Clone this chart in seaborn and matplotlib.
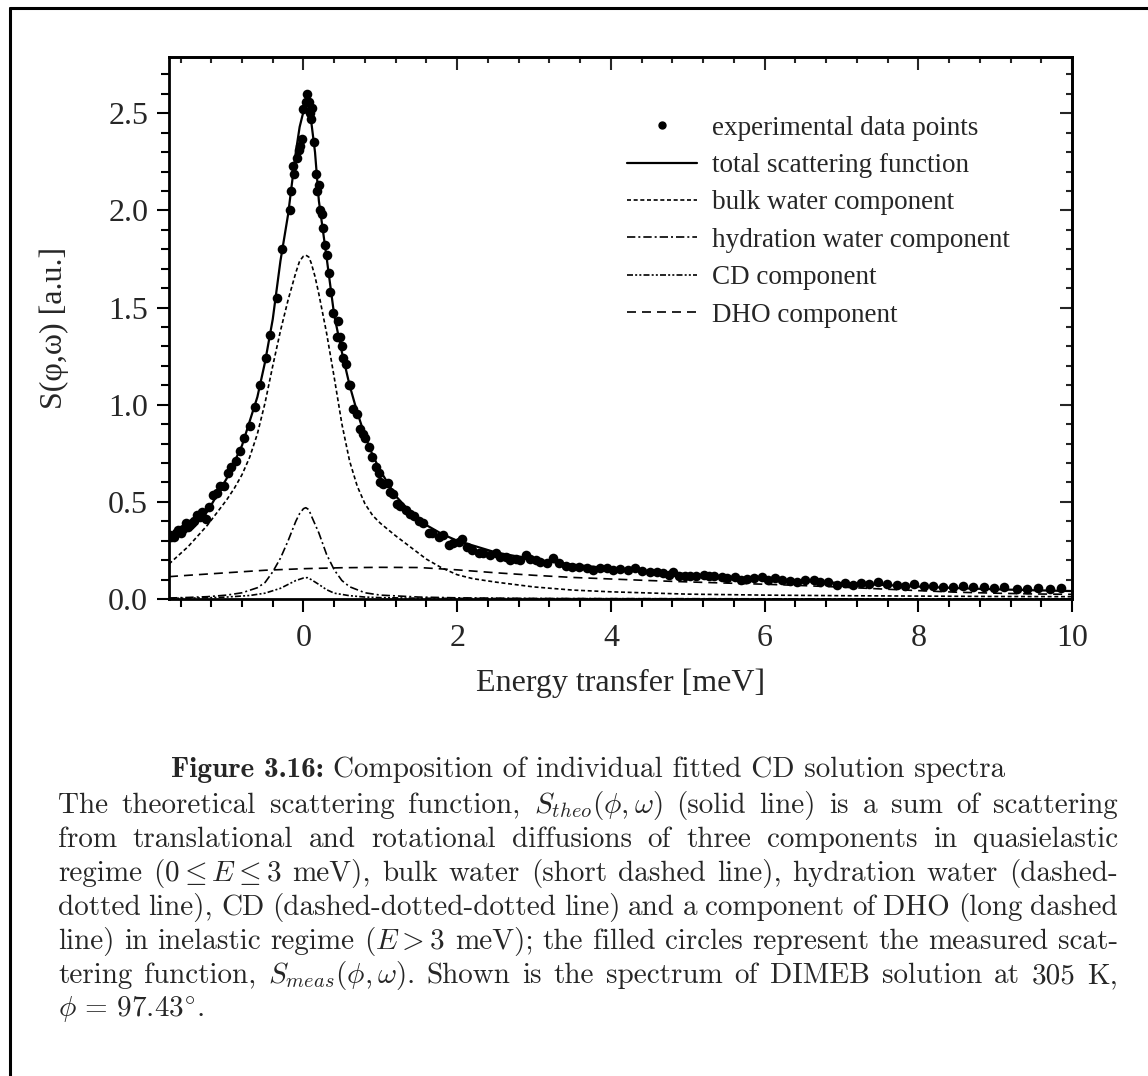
import numpy as np
import pandas as pd
import matplotlib
matplotlib.use("Agg")
import matplotlib.pyplot as plt
import seaborn as sns
from matplotlib.lines import Line2D
from matplotlib.ticker import MultipleLocator, FormatStrFormatter

# ---------------- experimental points ----------------
e_exp = [-1.74, -1.72, -1.69, -1.66, -1.63, -1.60, -1.57, -1.53, -1.50, -1.48, -1.45, -1.43,
         -1.38, -1.35, -1.32, -1.27, -1.23, -1.18, -1.13, -1.08, -1.04, -0.98, -0.94, -0.88,
         -0.82, -0.77, -0.70, -0.63, -0.57, -0.49, -0.43, -0.35, -0.28, -0.18, -0.16, -0.13,
         -0.12, -0.08, -0.06, -0.04, -0.02, 0.00, 0.035, 0.04, 0.07, 0.09, 0.10, 0.11, 0.14,
         0.16, 0.18, 0.20, 0.21, 0.24, 0.26, 0.28, 0.30, 0.33, 0.35, 0.39, 0.44, 0.45, 0.47,
         0.50, 0.52, 0.55, 0.59, 0.61, 0.65, 0.70, 0.73, 0.78, 0.80, 0.85, 0.89, 0.94, 0.98,
         1.00, 1.04, 1.10, 1.13, 1.16, 1.22, 1.26, 1.33, 1.39, 1.44, 1.50, 1.56, 1.63, 1.67,
         1.76, 1.82, 1.89, 1.95, 2.02, 2.06, 2.13, 2.19, 2.28, 2.34, 2.43, 2.50, 2.56, 2.63,
         2.69, 2.76, 2.82, 2.89, 2.95, 3.02, 3.08, 3.17, 3.25, 3.32, 3.41, 3.49, 3.58, 3.69,
         3.77, 3.86, 3.95, 4.03, 4.12, 4.22, 4.32, 4.40, 4.51, 4.60, 4.68, 4.75, 4.81, 4.89,
         4.96, 5.03, 5.11, 5.21, 5.28, 5.34, 5.45, 5.51, 5.61, 5.69, 5.77, 5.86, 5.96, 6.05,
         6.14, 6.23, 6.33, 6.42, 6.53, 6.64, 6.72, 6.83, 6.94, 7.04, 7.15, 7.25, 7.36, 7.48,
         7.59, 7.72, 7.83, 7.95, 8.07, 8.19, 8.32, 8.45, 8.58, 8.71, 8.85, 8.99, 9.12, 9.28,
         9.42, 9.56, 9.71, 9.86]
s_exp = [0.33, 0.32, 0.32, 0.34, 0.355, 0.34, 0.36, 0.39, 0.37, 0.38, 0.39, 0.40,
         0.43, 0.42, 0.45, 0.41, 0.476, 0.536, 0.545, 0.58, 0.58, 0.65, 0.68, 0.71,
         0.76, 0.83, 0.89, 0.99, 1.10, 1.24, 1.36, 1.55, 1.80, 2.00, 2.10, 2.23,
         2.19, 2.27, 2.31, 2.33, 2.37, 2.52, 2.56, 2.60, 2.56, 2.50, 2.47, 2.53, 2.35,
         2.19, 2.10, 2.13, 2.00, 1.98, 1.91, 1.82, 1.77, 1.68, 1.58, 1.47, 1.35, 1.43, 1.35,
         1.30, 1.24, 1.21, 1.10, 1.10, 0.98, 0.95, 0.875, 0.85, 0.83, 0.78, 0.73, 0.68, 0.65,
         0.60, 0.59, 0.595, 0.55, 0.54, 0.49, 0.48, 0.46, 0.44, 0.425, 0.40, 0.39, 0.34, 0.34,
         0.32, 0.33, 0.28, 0.29, 0.295, 0.31, 0.27, 0.25, 0.235, 0.235, 0.227, 0.235, 0.218, 0.218,
         0.20, 0.208, 0.20, 0.227, 0.208, 0.20, 0.192, 0.187, 0.21, 0.184, 0.17, 0.167, 0.167, 0.162,
         0.15, 0.158, 0.162, 0.15, 0.153, 0.15, 0.158, 0.145, 0.137, 0.14, 0.133, 0.125, 0.137, 0.117,
         0.117, 0.12, 0.12, 0.124, 0.117, 0.118, 0.115, 0.11, 0.115, 0.10, 0.105, 0.108, 0.112, 0.10,
         0.110, 0.10, 0.094, 0.087, 0.098, 0.098, 0.09, 0.087, 0.072, 0.08, 0.072, 0.08, 0.077, 0.089,
         0.075, 0.072, 0.069, 0.075, 0.067, 0.067, 0.064, 0.060, 0.067, 0.064, 0.064, 0.059, 0.060, 0.052,
         0.052, 0.055, 0.050, 0.055]

# ---------------- fitted curves ----------------
e_total = [-1.75, -1.5, -1.25, -1.0, -0.8, -0.6, -0.5, -0.4, -0.3, -0.2, -0.1, -0.05, 0.0, 0.03,
           0.06, 0.1, 0.15, 0.2, 0.3, 0.4, 0.5, 0.6, 0.7, 0.8, 0.9, 1.0, 1.2, 1.4, 1.6, 1.8,
           2.0, 2.5, 3.0, 3.5, 4.0, 4.5, 5.0, 5.5, 6.0, 6.5, 7.0, 7.5, 8.0, 8.5, 9.0, 9.5, 10.0]
s_total = [0.32, 0.38, 0.45, 0.62, 0.79, 1.04, 1.22, 1.44, 1.74, 1.98, 2.30, 2.43, 2.51, 2.53,
           2.52, 2.46, 2.30, 2.05, 1.76, 1.46, 1.27, 1.10, 0.96, 0.84, 0.74, 0.66, 0.53, 0.445, 0.38, 0.335,
           0.30, 0.24, 0.203, 0.177, 0.157, 0.142, 0.128, 0.115, 0.102, 0.092, 0.082, 0.073, 0.064, 0.056,
           0.050, 0.045, 0.041]

e_bulk = [-1.75, -1.5, -1.25, -1.0, -0.9, -0.8, -0.7, -0.6, -0.5, -0.4, -0.3, -0.2, -0.1, -0.05,
          0.0, 0.03, 0.07, 0.1, 0.15, 0.2, 0.3, 0.4, 0.5, 0.6, 0.7, 0.8, 0.9, 1.0, 1.2, 1.4, 1.6,
          1.8, 2.0, 2.2, 2.5, 3.0, 3.5, 4.0, 5.0, 6.0, 7.0, 8.0, 9.0, 10.0]
s_bulk = [0.18, 0.27, 0.38, 0.51, 0.57, 0.64, 0.73, 0.85, 1.01, 1.20, 1.38, 1.54, 1.68, 1.74,
          1.765, 1.77, 1.76, 1.73, 1.66, 1.57, 1.37, 1.14, 0.90, 0.71, 0.58, 0.49, 0.43, 0.39, 0.325, 0.265, 0.205,
          0.16, 0.125, 0.105, 0.087, 0.062, 0.046, 0.037, 0.025, 0.020, 0.017, 0.015, 0.013, 0.012]

e_hyd = [-1.75, -1.5, -1.25, -1.0, -0.8, -0.6, -0.5, -0.4, -0.3, -0.2, -0.1, -0.05, 0.0, 0.03,
         0.07, 0.1, 0.2, 0.3, 0.4, 0.5, 0.6, 0.8, 1.0, 1.5, 2.0, 3.0, 4.0, 6.0, 10.0]
s_hyd = [0.005, 0.008, 0.012, 0.02, 0.032, 0.058, 0.085, 0.14, 0.21, 0.30, 0.40, 0.44, 0.465, 0.47,
         0.46, 0.43, 0.34, 0.23, 0.15, 0.095, 0.063, 0.032, 0.02, 0.01, 0.006, 0.003, 0.002, 0.001, 0.0]

e_cd = [-1.75, -1.25, -1.0, -0.7, -0.5, -0.3, -0.2, -0.1, 0.0, 0.05, 0.1, 0.2, 0.3, 0.4, 0.6,
        0.8, 1.0, 1.5, 2.0, 3.0, 5.0, 10.0]
s_cd = [0.003, 0.006, 0.01, 0.018, 0.03, 0.055, 0.075, 0.095, 0.108, 0.11, 0.10, 0.075, 0.048, 0.03,
        0.017, 0.01, 0.007, 0.004, 0.003, 0.002, 0.001, 0.0]

e_dho = [-1.75, -1.5, -1.0, -0.5, 0.0, 0.5, 1.0, 1.5, 2.0, 2.5, 3.0, 3.5, 4.0, 4.5, 5.0, 5.5,
         6.0, 6.5, 7.0, 7.5, 8.0, 8.5, 9.0, 9.5, 10.0]
s_dho = [0.115, 0.122, 0.135, 0.148, 0.156, 0.161, 0.163, 0.162, 0.15, 0.135, 0.122, 0.111, 0.103,
         0.095, 0.088, 0.082, 0.076, 0.069, 0.061, 0.052, 0.043, 0.035, 0.030, 0.026, 0.024]

legend_labels = ["experimental data points", "total scattering function", "bulk water component",
                 "hydration water component", "CD component", "DHO component"]

caption_bold = "Figure 3.16:"
caption_title = "Composition of individual fitted CD solution spectra"
caption_lines = [
    r"The theoretical scattering function, $S_{theo}(\phi,\omega)$ (solid line) is a sum of scattering",
    r"from translational and rotational diffusions of three components in quasielastic",
    r"regime ($0\leq{}E\leq{}3$ meV), bulk water (short dashed line), hydration water (dashed-",
    r"dotted line), CD (dashed-dotted-dotted line) and a component of DHO (long dashed",
    r"line) in inelastic regime ($E>3$ meV); the filled circles represent the measured scat-",
    r"tering function, $S_{meas}(\phi,\omega)$. Shown is the spectrum of DIMEB solution at 305 K,",
    r"$\phi\,=\,97.43^{\circ}$.",
]

# ---------------- style ----------------
sns.set_style("ticks")
plt.rcParams['font.family'] = ['Liberation Serif', 'DejaVu Serif']
plt.rcParams['mathtext.fontset'] = 'cm'

W, H = 1148, 1076
fig = plt.figure(figsize=(W / 100, H / 100), dpi=100)
ax = fig.add_axes([169 / W, 1 - 599 / H, (1072 - 169) / W, (599 - 57) / H])

lw = 1.2
styles = [
    (e_total, s_total, '-', 1.6),
    (e_bulk, s_bulk, (0, (2.4, 1.6)), lw),
    (e_hyd, s_hyd, (0, (5.0, 1.8, 1.2, 1.8)), lw),
    (e_cd, s_cd, (0, (3.6, 1.3, 1.2, 1.3, 1.2, 1.3)), lw),
    (e_dho, s_dho, (0, (5.4, 3.6)), lw),
]
for ex, sy, ls, w in styles:
    sns.lineplot(x=ex, y=sy, ax=ax, color='black', linestyle=ls, linewidth=w,
                 estimator=None, sort=False)

sns.scatterplot(x=e_exp, y=s_exp, ax=ax, color='black', s=48, linewidth=0, zorder=3)

ax.set_xlim(-1.75, 10)
ax.set_ylim(0, 2.79)
ax.xaxis.set_major_locator(MultipleLocator(2))
ax.xaxis.set_minor_locator(MultipleLocator(0.4))
ax.yaxis.set_major_locator(MultipleLocator(0.5))
ax.yaxis.set_minor_locator(MultipleLocator(0.1))
ax.yaxis.set_major_formatter(FormatStrFormatter('%.1f'))
ax.tick_params(which='major', direction='out', length=9, width=1.5, labelsize=23, color='black')
ax.tick_params(axis='x', which='major', pad=9)
ax.tick_params(axis='y', which='major', pad=6)
ax.tick_params(which='minor', direction='out', length=5.5, width=1.5, color='black')
for sp in ax.spines.values():
    sp.set_linewidth(2.0)
    sp.set_color('black')

top = ax.secondary_xaxis('top')
top.xaxis.set_major_locator(MultipleLocator(2))
top.xaxis.set_minor_locator(MultipleLocator(0.4))
top.tick_params(which='major', direction='in', length=9, width=1.5, labeltop=False)
top.tick_params(which='minor', direction='in', length=4.5, width=1.5)
right = ax.secondary_yaxis('right')
right.yaxis.set_major_locator(MultipleLocator(0.5))
right.yaxis.set_minor_locator(MultipleLocator(0.1))
right.tick_params(which='major', direction='in', length=9, width=1.5, labelright=False)
right.tick_params(which='minor', direction='in', length=4.5, width=1.5)
for sec in (top, right):
    for sp in sec.spines.values():
        sp.set_linewidth(2.0)

ax.set_xlabel("Energy transfer [meV]", fontsize=23, labelpad=11)
ax.set_ylabel("S(φ,ω) [a.u.]", fontsize=23, labelpad=28)

handles = [Line2D([], [], color='black', marker='o', linestyle='none', markersize=5)]
for _, _, ls, w in styles:
    handles.append(Line2D([], [], color='black', linestyle=ls, linewidth=w))
ax.legend(handles, legend_labels, loc='upper left', bbox_to_anchor=((627 - 169) / 903, 0.892),
          frameon=False, fontsize=19.5, handlelength=2.6, handletextpad=0.55,
          labelspacing=0.46, numpoints=1, borderaxespad=0, borderpad=0)

# page frame
fig.add_artist(Line2D([10 / W, 10 / W], [0, 1 - 8 / H], transform=fig.transFigure,
                      color='black', linewidth=2.2))
fig.add_artist(Line2D([10 / W, 1], [1 - 8 / H, 1 - 8 / H], transform=fig.transFigure,
                      color='black', linewidth=2.2))

# caption
cap_size = 21
fig.canvas.draw()
rend = fig.canvas.get_renderer()

tb = fig.text(0, 1 - 770 / H, caption_bold, ha='left', va='center', family='cmb10', fontsize=cap_size)
tr = fig.text(0, 1 - 770 / H, caption_title, ha='left', va='center', family='cmr10', fontsize=cap_size)
wb = tb.get_window_extent(rend).width
wr = tr.get_window_extent(rend).width
sp_w = cap_size * 1.389 * 0.33
start = 588 - (wb + sp_w + wr) / 2
tb.set_x(start / W)
tr.set_x((start + wb + sp_w) / W)

x0, x1 = 58, 1118
y = 806
for i, line in enumerate(caption_lines):
    words = line.split(' ')
    texts = [fig.text(0, 1 - y / H, wd, ha='left', va='center', family='cmr10',
                      fontsize=cap_size) for wd in words]
    widths = [t.get_window_extent(rend).width for t in texts]
    if i < len(caption_lines) - 1 and len(words) > 1:
        gap = (x1 - x0 - sum(widths)) / (len(words) - 1)
    else:
        gap = sp_w
    x = x0
    for t, wd in zip(texts, widths):
        t.set_x(x / W)
        x += wd + gap
    y += 34

fig.savefig("out.png", dpi=100)
